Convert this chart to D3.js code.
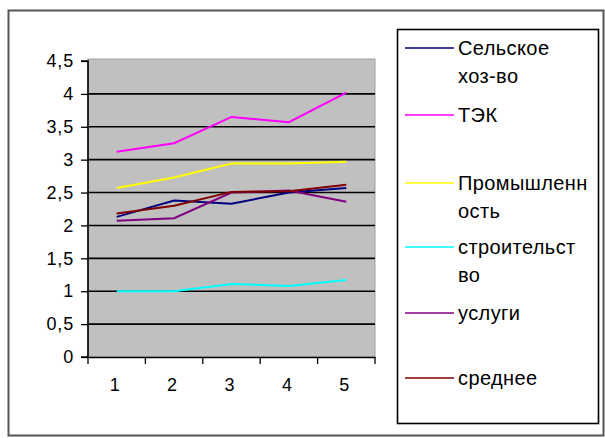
<!DOCTYPE html>
<html>
<head>
<meta charset="utf-8">
<script src="https://cdn.jsdelivr.net/npm/d3@7"></script>
<style>
  html, body { margin: 0; padding: 0; background: #fff; }
  svg { display: block; font-family: "Liberation Sans", Arial, sans-serif; }
</style>
</head>
<body>
<svg id="chart" width="605" height="438"></svg>
<script>
const categories = ["1", "2", "3", "4", "5"];
const yTicks = [0, 0.5, 1, 1.5, 2, 2.5, 3, 3.5, 4, 4.5];
const seriesNames = [["Сельское", "хоз-во"], ["ТЭК"], ["Промышленн", "ость"], ["строительст", "во"], ["услуги"], ["среднее"]];
const selskoe = [2.13, 2.38, 2.33, 2.50, 2.57];
const tek = [3.12, 3.25, 3.65, 3.57, 4.02];
const prom = [2.57, 2.73, 2.94, 2.94, 2.97];
const stroit = [1.00, 1.00, 1.11, 1.08, 1.17];
const uslugi = [2.07, 2.11, 2.50, 2.53, 2.36];
const srednee = [2.18, 2.30, 2.51, 2.52, 2.62];
const colors = ["#000080", "#FF00FF", "#FFFF00", "#00FFFF", "#800080", "#800000"];

const seriesValues = [selskoe, tek, prom, stroit, uslugi, srednee];

const svg = d3.select("#chart");

// outer frame
svg.append("rect").attr("x", 8.5).attr("y", 10.5).attr("width", 595).attr("height", 425)
  .attr("fill", "#fff").attr("stroke", "#555").attr("stroke-width", 2);

const pLeft = 88, pRight = 375, pTop = 61, pBottom = 357;

const x = d3.scaleBand().domain(categories).range([pLeft, pRight]).padding(0);
const y = d3.scaleLinear().domain([0, 4.5]).range([pBottom, pTop]);

// plot area
svg.append("rect").attr("x", pLeft).attr("y", pTop - 2).attr("width", pRight - pLeft).attr("height", pBottom - pTop + 2)
  .attr("fill", "#C0C0C0").attr("stroke", "#a0a0a0").attr("stroke-width", 1);

// gridlines
svg.append("g").selectAll("line").data(yTicks.filter(d => d > 0 && d < 4.5)).join("line")
  .attr("x1", pLeft).attr("x2", pRight)
  .attr("y1", d => y(d)).attr("y2", d => y(d))
  .attr("stroke", "#000").attr("stroke-width", 1.6);

// y axis
const yAxis = d3.axisLeft(y).tickValues(yTicks).tickSize(7).tickPadding(7)
  .tickFormat(d => String(d).replace(".", ","));
const gy = svg.append("g").attr("transform", `translate(${pLeft},0)`).call(yAxis);
gy.select(".domain").attr("stroke", "#000").attr("stroke-width", 1.6).attr("d", `M-7,${pTop}H0V${pBottom}H-7`);
gy.selectAll(".tick line").attr("stroke", "#000").attr("stroke-width", 1.3);
gy.selectAll("text").attr("font-size", 18).attr("letter-spacing", 0.8).attr("fill", "#000")
  .attr("font-family", "Liberation Sans, Arial, sans-serif");

// x axis
const xAxis = d3.axisBottom(x).tickSize(0).tickPadding(21);
const gx = svg.append("g").attr("transform", `translate(0,${pBottom})`).call(xAxis);
gx.select(".domain").attr("stroke", "#000").attr("stroke-width", 1.6);
gx.selectAll("text").attr("font-size", 18).attr("fill", "#000").attr("dx", -2)
  .attr("font-family", "Liberation Sans, Arial, sans-serif");
// category boundary ticks
const bounds = categories.map(c => x(c)).concat([x(categories[categories.length - 1]) + x.bandwidth()]);
gx.append("g").selectAll("line").data(bounds).join("line")
  .attr("x1", d => d).attr("x2", d => d).attr("y1", 0).attr("y2", 7)
  .attr("stroke", "#000").attr("stroke-width", 1.3);

// lines
const line = d3.line()
  .x((d, i) => x(categories[i]) + x.bandwidth() / 2)
  .y(d => y(d));

svg.append("g").selectAll("path").data(seriesValues).join("path")
  .attr("d", d => line(d))
  .attr("fill", "none")
  .attr("stroke", (d, i) => colors[i])
  .attr("stroke-width", 2);

// legend
svg.append("rect").attr("x", 397.5).attr("y", 29.5).attr("width", 201).attr("height", 394)
  .attr("fill", "#fff").attr("stroke", "#000").attr("stroke-width", 1.6);

const legendY = [48, 115, 183, 247, 313, 378];
const lg = svg.append("g");
seriesNames.forEach((names, i) => {
  const yy = legendY[i];
  lg.append("line").attr("x1", 405).attr("x2", 454).attr("y1", yy).attr("y2", yy)
    .attr("stroke", colors[i]).attr("stroke-width", 1.6);
  names.forEach((t, j) => {
    lg.append("text").attr("x", 458).attr("y", yy + j * 28).attr("dy", "0.35em")
      .attr("font-size", 20).attr("letter-spacing", 0.4).attr("fill", "#000").text(t);
  });
});
</script>
</body>
</html>
